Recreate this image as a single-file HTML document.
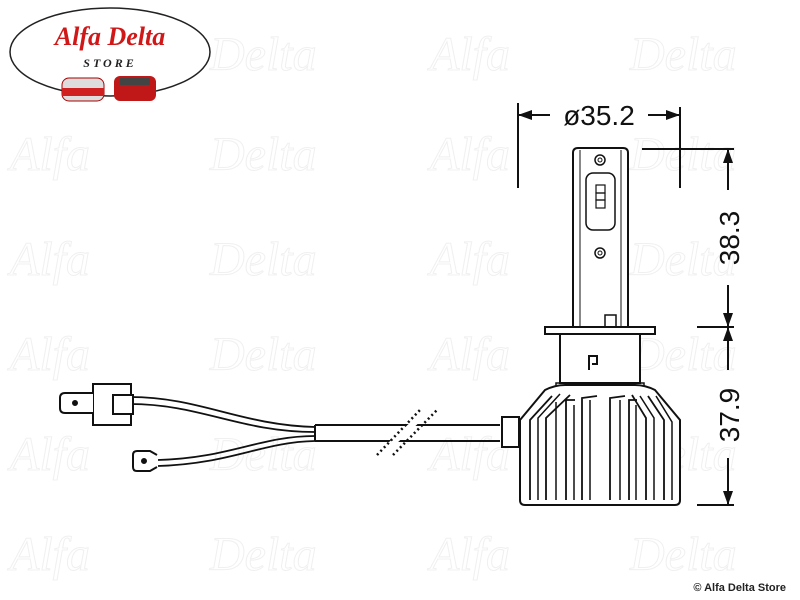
<!DOCTYPE html>
<html><head><style>
body{margin:0;width:800px;height:600px;background:#fff;overflow:hidden;position:relative;font-family:"Liberation Sans",sans-serif}
</style></head><body>
<svg width="800" height="600" viewBox="0 0 800 600" style="position:absolute;left:0;top:0">
<g font-family="Liberation Serif" font-style="italic" font-size="48" fill="none" stroke="#f0f0f0" stroke-width="1">
<text x="10" y="170">Alfa</text><text x="210" y="170">Delta</text><text x="430" y="170">Alfa</text><text x="630" y="170">Delta</text>
<text x="10" y="275">Alfa</text><text x="210" y="275">Delta</text><text x="430" y="275">Alfa</text><text x="630" y="275">Delta</text>
<text x="10" y="370">Alfa</text><text x="210" y="370">Delta</text><text x="430" y="370">Alfa</text><text x="630" y="370">Delta</text>
<text x="10" y="470">Alfa</text><text x="210" y="470">Delta</text><text x="430" y="470">Alfa</text><text x="630" y="470">Delta</text>
<text x="10" y="570">Alfa</text><text x="210" y="570">Delta</text><text x="430" y="570">Alfa</text><text x="630" y="570">Delta</text>
<text x="210" y="70">Delta</text><text x="430" y="70">Alfa</text><text x="630" y="70">Delta</text>
</g>
<!-- logo -->
<ellipse cx="110" cy="52" rx="100" ry="44" fill="#fff" stroke="#222" stroke-width="1.5"/>
<text x="110" y="45" text-anchor="middle" font-family="Liberation Serif" font-style="italic" font-weight="bold" font-size="26" fill="#d01818">Alfa Delta</text>
<text x="110" y="67" text-anchor="middle" font-family="Liberation Serif" font-style="italic" font-weight="bold" font-size="12" letter-spacing="3" fill="#222">STORE</text>
<rect x="62" y="78" width="42" height="23" rx="7" fill="#ddd" stroke="#a00"/><rect x="62" y="88" width="42" height="8" fill="#d02020"/>
<rect x="114" y="76" width="42" height="25" rx="6" fill="#c01818"/><rect x="120" y="78" width="30" height="7" fill="#444"/>
<g stroke="#111" stroke-width="2" fill="none">
<!-- dimension top -->
<line x1="518" y1="103" x2="518" y2="188"/><line x1="680" y1="107" x2="680" y2="188"/>
<line x1="518" y1="115" x2="550" y2="115"/><line x1="648" y1="115" x2="680" y2="115"/>
<!-- right dimension -->
<line x1="642" y1="149" x2="734" y2="149"/><line x1="697" y1="327" x2="734" y2="327"/><line x1="697" y1="505" x2="734" y2="505"/>
<line x1="728" y1="149" x2="728" y2="190"/><line x1="728" y1="285" x2="728" y2="327"/>
<line x1="728" y1="327" x2="728" y2="370"/><line x1="728" y1="458" x2="728" y2="505"/>
<!-- stem -->
<path d="M573 327 V153 Q573 148 578 148 H623 Q628 148 628 153 V327" fill="#fff"/>
<line x1="580" y1="150" x2="580" y2="327" stroke-width="1"/><line x1="621" y1="150" x2="621" y2="327" stroke-width="1"/>
<rect x="586" y="173" width="29" height="57" rx="7" stroke-width="1.5"/>
<rect x="596" y="185" width="9" height="8" stroke-width="1.2"/><rect x="596" y="193" width="9" height="7" stroke-width="1.2"/><rect x="596" y="200" width="9" height="8" stroke-width="1.2"/>
<circle cx="600" cy="160" r="5" stroke-width="1.5"/><circle cx="600" cy="160" r="2" stroke-width="1"/>
<circle cx="600" cy="253" r="5" stroke-width="1.5"/><circle cx="600" cy="253" r="2" stroke-width="1"/>
<rect x="605" y="315" width="11" height="12" stroke-width="1.5"/>
<rect x="545" y="327" width="110" height="7" fill="#fff"/>
<rect x="560" y="334" width="80" height="49" fill="#fff"/>
<path d="M589 370 V356 H597 V364 H592" stroke-width="2"/>
<rect x="556" y="383" width="88" height="4" stroke-width="1.5"/>
<!-- heatsink -->
<path d="M520 420 L545 390 Q555 385 565 385 H635 Q645 385 655 390 L680 420 V500 Q680 505 675 505 H525 Q520 505 520 500 Z" fill="#fff"/>
<path d="M530 500 V420 L552 396 M546 500 V418 L570 395 M566 500 V400 H575 M582 500 V398 L597 396 M610 500 V398 L625 396 M629 500 V400 H637 M646 500 V418 L632 395 M664 500 V420 L648 396" stroke-width="1.8"/>
<path d="M538 500 V418 L560 394 M556 500 V402 M574 500 V405 M590 500 V400 M620 500 V400 M636 500 V405 M654 500 V418 L640 396 M672 500 V422 L656 396" stroke-width="1.5"/>
<rect x="502" y="417" width="17" height="30" fill="#fff"/>
<!-- cable -->
<path d="M315 425 H500 M315 441 H500 M315 425 V441"/>
<path d="M130 397 C200 397 240 425 315 427 M130 404 C200 404 240 432 315 432" stroke-width="1.8"/>
<path d="M158 460 C230 458 260 436 315 436 M158 466 C230 464 262 442 315 441" stroke-width="1.8"/>
<rect x="93" y="384" width="38" height="41" fill="#fff"/>
<rect x="113" y="395" width="20" height="19" fill="#fff"/>
<path d="M93 393 H65 Q60 393 60 398 V408 Q60 413 65 413 H93" fill="#fff"/>
<circle cx="75" cy="403" r="2" fill="#111"/>
<path d="M157 455 L150 451 H137 Q133 451 133 455 V467 Q133 471 137 471 H150 L157 467" fill="#fff"/>
<circle cx="144" cy="461" r="2" fill="#111"/>
</g>
<g stroke="#fff" stroke-width="6"><line x1="385" y1="450" x2="425" y2="413"/></g>
<g stroke="#111" stroke-width="2.5" stroke-dasharray="2 3"><line x1="377" y1="455" x2="420" y2="410"/><line x1="393" y1="455" x2="437" y2="410"/></g>
<!-- arrows -->
<g fill="#111">
<path d="M518 115 l14 -5 v10 z"/><path d="M680 115 l-14 -5 v10 z"/>
<path d="M728 149 l-5 14 h10 z"/><path d="M728 327 l-5 -14 h10 z"/>
<path d="M728 327 l-5 14 h10 z"/><path d="M728 505 l-5 -14 h10 z"/>
</g>
<text x="599" y="125" text-anchor="middle" font-size="28" fill="#111">ø35.2</text>
<text transform="translate(739,238) rotate(-90)" text-anchor="middle" font-size="28" fill="#111">38.3</text>
<text transform="translate(739,415) rotate(-90)" text-anchor="middle" font-size="28" fill="#111">37.9</text>
<text x="786" y="591" text-anchor="end" font-size="11" font-weight="bold" fill="#222">© Alfa Delta Store</text>
</svg>
</body></html>
